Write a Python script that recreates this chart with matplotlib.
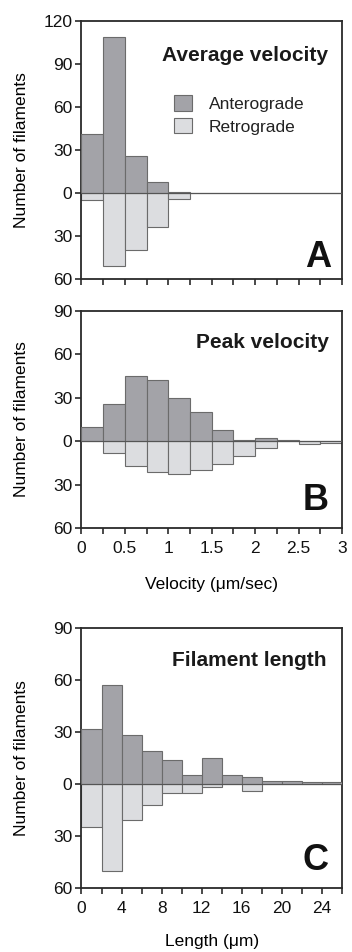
import matplotlib
matplotlib.use("Agg")
import matplotlib.pyplot as plt
import numpy as np
from matplotlib.patches import Patch
from matplotlib.ticker import FuncFormatter

plt.rcParams['font.family'] = ['Liberation Sans', 'DejaVu Sans']

# Panel A: average velocity (bins of 0.25 um/sec, 0-3)
vel_edges = [0, 0.25, 0.5, 0.75, 1.0, 1.25, 1.5, 1.75, 2.0, 2.25, 2.5, 2.75, 3.0]
avg_antero = [41, 109, 26, 8, 1, 0, 0, 0, 0, 0, 0, 0]
avg_retro = [5, 51, 40, 24, 4, 0, 0, 0, 0, 0, 0, 0]

# Panel B: peak velocity
peak_antero = [10, 26, 45, 42, 30, 20, 8, 1, 2, 1, 0, 0]
peak_retro = [0, 8, 17, 21, 23, 20, 16, 10, 5, 0, 2, 1]

# Panel C: filament length (bins of 2 um, 0-26)
len_edges = [0, 2, 4, 6, 8, 10, 12, 14, 16, 18, 20, 22, 24, 26]
len_antero = [32, 57, 28, 19, 14, 5, 15, 5, 4, 2, 2, 1, 1]
len_retro = [25, 50, 21, 12, 5, 5, 2, 0, 4, 0, 0, 0, 0]

ANT = '#a3a3a8'
RET = '#dcdde0'
EDGE = '#6b6b6b'
SPINE = '#2a2a2a'

fig = plt.figure(figsize=(3.52, 9.52), dpi=100)
L, W = 0.2315, 0.740
axA = fig.add_axes([L, 0.7069, W, 0.2710])
axB = fig.add_axes([L, 0.4454, W, 0.2279])
axC = fig.add_axes([L, 0.0672, W, 0.2731])

absfmt = FuncFormatter(lambda v, p: f"{abs(int(round(v)))}")


def draw(ax, edges, ant, ret, ylim, yticks, title, letter, tpos, lpos):
    edges = np.asarray(edges, float)
    left = edges[:-1]
    w = np.diff(edges)
    ax.bar(left, [-r for r in ret], width=w, align='edge', color=RET,
           edgecolor=EDGE, linewidth=0.8, zorder=2, label='Retrograde')
    ax.bar(left, ant, width=w, align='edge', color=ANT,
           edgecolor=EDGE, linewidth=0.8, zorder=3, label='Anterograde')
    ax.axhline(0, color='#555555', linewidth=0.8, zorder=4)
    ax.set_xlim(edges[0], edges[-1])
    ax.set_ylim(*ylim)
    ax.set_yticks(yticks)
    ax.yaxis.set_major_formatter(absfmt)
    ax.set_xticks(edges)
    for s in ax.spines.values():
        s.set_linewidth(1.3)
        s.set_color(SPINE)
    ax.tick_params(axis='both', direction='out', length=4.5, width=1.2,
                   color=SPINE, labelsize=12.5, labelcolor='#111111',
                   top=False, right=False, pad=2)
    ax.tick_params(axis='x', pad=5)
    ax.set_ylabel('Number of filaments', fontsize=12.5, labelpad=6)
    ax.text(tpos[0], tpos[1], title, transform=ax.transAxes, ha='right',
            va='center', fontsize=15, fontweight='bold', color='#1a1a1a')
    ax.text(lpos[0], lpos[1], letter, transform=ax.transAxes, ha='right',
            va='baseline', fontsize=26, fontweight='bold', color='#111111')


draw(axA, vel_edges, avg_antero, avg_retro, (-60, 120),
     [-60, -30, 0, 30, 60, 90, 120], 'Average velocity', 'A',
     (0.945, 0.868), (0.958, 0.048))
axA.set_xticklabels([])

draw(axB, vel_edges, peak_antero, peak_retro, (-60, 90),
     [-60, -30, 0, 30, 60, 90], 'Peak velocity', 'B',
     (0.948, 0.853), (0.950, 0.083))
axB.set_xticklabels(['0' if i == 0 else (f"{e:g}" if i % 2 == 0 else '')
                     for i, e in enumerate(vel_edges)])
axB.set_xlabel('Velocity (\u03bcm/sec)', fontsize=12.5, labelpad=15)

draw(axC, len_edges, len_antero, len_retro, (-60, 90),
     [-60, -30, 0, 30, 60, 90], 'Filament length', 'C',
     (0.940, 0.876), (0.950, 0.069))
axC.set_xticklabels([f"{e:g}" if i % 2 == 0 and e < 26 else ''
                     for i, e in enumerate(len_edges)])
axC.set_xlabel('Length (\u03bcm)', fontsize=12.5, labelpad=13)

handles = [Patch(facecolor=ANT, edgecolor=EDGE, linewidth=0.8, label='Anterograde'),
           Patch(facecolor=RET, edgecolor=EDGE, linewidth=0.8, label='Retrograde')]
axA.legend(handles=handles, loc='upper left', bbox_to_anchor=(0.31, 0.76),
           frameon=False, fontsize=12.5, handlelength=1.0, handleheight=1.0,
           handletextpad=1.0, labelspacing=0.35, borderpad=0.2,
           labelcolor='#222222')

for ax in (axA, axB, axC):
    ax.yaxis.set_label_coords(-0.20, 0.5)

fig.savefig('out.png', dpi=100)
